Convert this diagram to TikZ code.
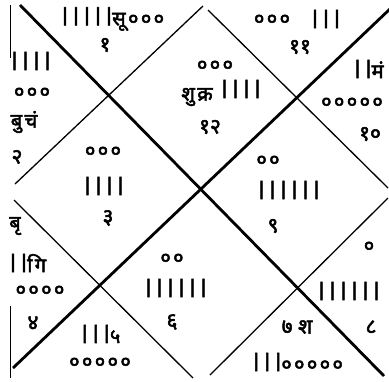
\documentclass[tikz,border=0pt]{standalone}
\usepackage{fontspec}
\newfontfamily\dev[Script=Devanagari,FakeBold=2.5,LetterSpace=12]{Noto Sans}
\newfontfamily\devn[Script=Devanagari,FakeBold=2.5]{Noto Sans}
\newcommand\tallb[1]{\scalebox{1.1}[1.45]{#1}}
\begin{document}
\begin{tikzpicture}[x=1pt,y=-1pt,
  diag/.style={line width=2.8pt},
  edge/.style={line width=1.3pt},
  frame/.style={line width=1pt},
  t/.style={font=\dev\fontsize{20}{20}\selectfont, inner sep=0pt},
  tn/.style={font=\devn\fontsize{21}{21}\selectfont, inner sep=0pt}]
\useasboundingbox (0,0) rectangle (389,381);
\fill[white] (0,0) rectangle (389,381);
% corners and vertices
\coordinate (TL) at (20,5);
\coordinate (BR) at (384,376);
\coordinate (TR) at (391,8);
\coordinate (BL) at (13,368);
% main diagonals
\draw[diag] (TL) -- (BR);
\draw[diag] (TR) -- (BL);
% inner diamond
\draw[edge] (203,6) -- (15,184);
\draw[edge] (208,10) -- (388,188);
\draw[edge] (388,198) -- (210,375);
\draw[edge] (193,378) -- (14,200);
% left border fragments
\draw[frame] (10,5) -- (10,58);
\draw[frame] (10,306) -- (10,378);
% house 12 (top diamond)
\node[t] (a1) at (215,66) {०००};
\node[t] (a2) at (197,97) {शुक्र};
\node[t] (a2b) at (240,89) {\tallb{।।।।}};
\node[tn] (a3) at (210,127) {१२};
% sign 1
\node[t] (b1) at (112,19) {\tallb{।।।।।}सू०००};
\node[tn] (b2) at (105,45) {१};
% sign 11
\node[t] (c1) at (272,20) {०००};
\node[t] (c2) at (325,19) {\tallb{।।।}};
\node[tn] (c3) at (300,47) {११};
% sign 2
\node[t] (d1) at (30,61) {\tallb{।।।।}};
\node[t] (d2) at (32,93) {०००};
\node[t] (d3) at (24,122) {बुचं};
\node[tn] (d4) at (17,157) {२};
% sign 10
\node[t] (e1) at (368,69) {\tallb{।।}मं};
\node[t] (e2) at (352,103) {०००००};
\node[tn] (e3) at (370,134) {१०};
% sign 3
\node[t] (f1) at (103,152) {०००};
\node[t] (f2) at (103,186) {\tallb{।।।।}};
\node[tn] (f3) at (108,218) {३};
% sign 9
\node[t] (g1) at (268,161) {००};
\node[t] (g2) at (288,190) {\tallb{।।।।।।}};
\node[tn] (g3) at (273,226) {९};
% sign 4
\node[t] (h1) at (15,226) {बृ};
\node[t] (h2) at (27,263) {\tallb{।।}गि};
\node[t] (h3) at (40,291) {००००};
\node[tn] (h4) at (33,323) {४};
% sign 6
\node[t] (i1) at (172,259) {००};
\node[t] (i2) at (175,288) {\tallb{।।।।।।}};
\node[tn] (i3) at (172,322) {६};
% sign 5
\node[t] (j1) at (100,334) {\tallb{।।।}५};
\node[t] (j2) at (100,363) {०००००};
% sign 7
\node[tn] (k1) at (297,327) {७ श};
\node[t] (k2) at (297,362) {\tallb{।।।}०००००};
% sign 8
\node[t] (l1) at (369,247) {०};
\node[t] (l2) at (348,291) {\tallb{।।।।।।}};
\node[tn] (l3) at (371,327) {८};
\end{tikzpicture}
\end{document}
